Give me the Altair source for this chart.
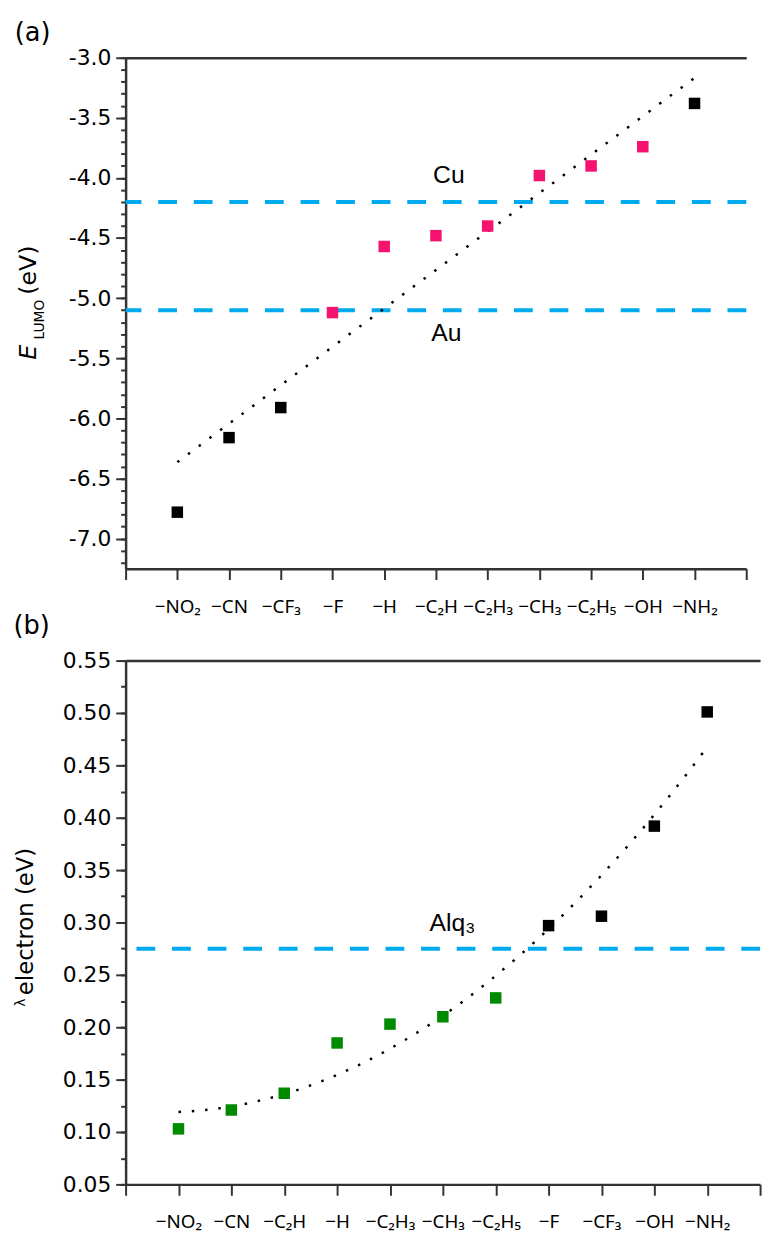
import json
import altair as alt
import pandas as pd

# ---------------- data ----------------
top_cats = ["−NO₂", "−CN", "−CF₃", "−F", "−H", "−C₂H", "−C₂H₃", "−CH₃", "−C₂H₅", "−OH", "−NH₂"]
top_vals = [-6.78, -6.16, -5.91, -5.12, -4.57, -4.48, -4.40, -3.98, -3.90, -3.74, -3.38]
top_kind = ["k", "k", "k", "p", "p", "p", "p", "p", "p", "p", "k"]
top_ref_vals = [-4.2, -5.1]
top_ref_names = ["Cu", "Au"]
top_ref_tx = [5.25, 5.2]
top_ref_ty = [-3.98, -5.29]
top_major = [-7.0, -6.5, -6.0, -5.5, -5.0, -4.5, -4.0, -3.5, -3.0]
top_minor = [round(-7.2 + 0.1 * i, 2) for i in range(43)]

bot_cats = ["−NO₂", "−CN", "−C₂H", "−H", "−C₂H₃", "−CH₃", "−C₂H₅", "−F", "−CF₃", "−OH", "−NH₂"]
bot_vals = [0.103, 0.121, 0.137, 0.185, 0.203, 0.210, 0.228, 0.297, 0.306, 0.392, 0.501]
bot_kind = ["g", "g", "g", "g", "g", "g", "g", "k", "k", "k", "k"]
bot_ref_vals = [0.275]
bot_ref_names = ["Alq₃"]
bot_ref_tx = [5.18]
bot_ref_ty = [0.299]
bot_major = [0.05, 0.10, 0.15, 0.20, 0.25, 0.30, 0.35, 0.40, 0.45, 0.50, 0.55]
bot_minor = [round(0.05 + 0.025 * i, 3) for i in range(21)]

BLUE = "#00AAEE"
AXC = "#333333"
cscale = alt.Scale(domain=["k", "p", "g"], range=["#000000", "#F5136F", "#008A00"])


def txt(text, x, y, size, angle=0, style="normal", font="DejaVu Sans"):
    return alt.Chart(pd.DataFrame({"t": [text]})).mark_text(
        fontSize=size, angle=angle, fontStyle=style, font=font,
        align="center", baseline="middle", color="black"
    ).encode(x=alt.value(x), y=alt.value(y), text=alt.value(text))


def panel(cats, vals, kind, ref_vals, ref_names, ref_tx, ref_ty, ydom, major, minor,
          fmt, W, H, reg, extra):
    df = pd.DataFrame({"x": list(range(len(cats))), "y": vals, "k": kind})
    xs = alt.Scale(domain=[-1, 11], nice=False, zero=False)
    ys = alt.Scale(domain=ydom, nice=False, zero=False)
    arr = json.dumps([""] + cats + [""], ensure_ascii=False)
    xaxis = alt.Axis(values=list(range(-1, 12)), labelExpr=arr + "[datum.value + 1]",
                     tickSize=11, tickWidth=2, tickColor=AXC, domainColor=AXC, domainWidth=2.5,
                     labelPadding=18, labelFont="Noto Sans", labelFontSize=19, labelColor="#000",
                     labelOverlap=False, labelBound=False, labelFlush=False, grid=False, title=None)
    topaxis = alt.Axis(orient="top", ticks=False, labels=False, domainColor=AXC, domainWidth=2.5,
                       grid=False, title=None)
    lab = ("datum.value < 0 ? '-' + format(-datum.value, '%s') : format(datum.value, '%s')"
           % (fmt, fmt))
    yaxis = alt.Axis(orient="left", values=major, labelExpr=lab, tickSize=10, tickWidth=2,
                     tickColor=AXC, domainColor=AXC, domainWidth=2.5, labelPadding=5,
                     labelFont="DejaVu Sans", labelFontSize=22, labelColor="#000",
                     labelOverlap=False, labelFlush=False, grid=False, title=None)
    minaxis = alt.Axis(orient="left", values=minor, labels=False, domain=False, tickSize=5,
                       tickWidth=2, tickColor=AXC, grid=False, title=None)

    rules = alt.Chart(pd.DataFrame({"v": ref_vals})).mark_rule(
        color=BLUE, strokeWidth=4, strokeDash=[19, 17]
    ).encode(y=alt.Y("v:Q", scale=ys, axis=minaxis))

    fit = alt.Chart(df).transform_regression("x", "y", **reg).mark_line(
        color="black", strokeWidth=2.5, strokeDash=[2.5, 11]
    ).encode(x=alt.X("x:Q", scale=xs, axis=topaxis), y=alt.Y("y:Q", scale=ys, axis=None))

    pts = alt.Chart(df).mark_square(size=135, opacity=1).encode(
        x=alt.X("x:Q", scale=xs, axis=xaxis),
        y=alt.Y("y:Q", scale=ys, axis=yaxis),
        color=alt.Color("k:N", scale=cscale, legend=None),
    )

    notes = alt.Chart(pd.DataFrame({"x": ref_tx, "y": ref_ty, "t": ref_names})).mark_text(
        font="Liberation Sans", fontSize=25, align="center", baseline="middle", color="black"
    ).encode(x=alt.X("x:Q", scale=xs, axis=None), y=alt.Y("y:Q", scale=ys, axis=None),
             text="t:N")

    return alt.layer(rules, fit, pts, notes, *extra).resolve_axis(
        x="independent", y="independent").properties(width=W, height=H)


top = panel(top_cats, top_vals, top_kind, top_ref_vals, top_ref_names, top_ref_tx, top_ref_ty,
            [-7.25, -3.0], top_major, top_minor, ".1f", 628, 517, {"method": "linear"},
            [txt("E", -98, 298, 24, 270, "italic"),
             txt("LUMO", -87, 265, 14, 270),
             txt("(eV)", -98, 215, 24, 270),
             txt("(a)", -94, -25, 26)])

bottom = panel(bot_cats, bot_vals, bot_kind, bot_ref_vals, bot_ref_names, bot_ref_tx, bot_ref_ty,
               [0.05, 0.55], bot_major, bot_minor, ".2f", 642, 530,
               {"method": "poly", "order": 2},
               [txt("λ", -106, 346, 14, 270),
                txt("electron (eV)", -101, 264, 23, 270),
                txt("(b)", -95, -35, 26)])

chart = alt.vconcat(top, bottom, spacing=93, bounds="flush").configure_view(stroke=None)

chart.save("out.html", embed_options={"renderer": "svg", "actions": False})
